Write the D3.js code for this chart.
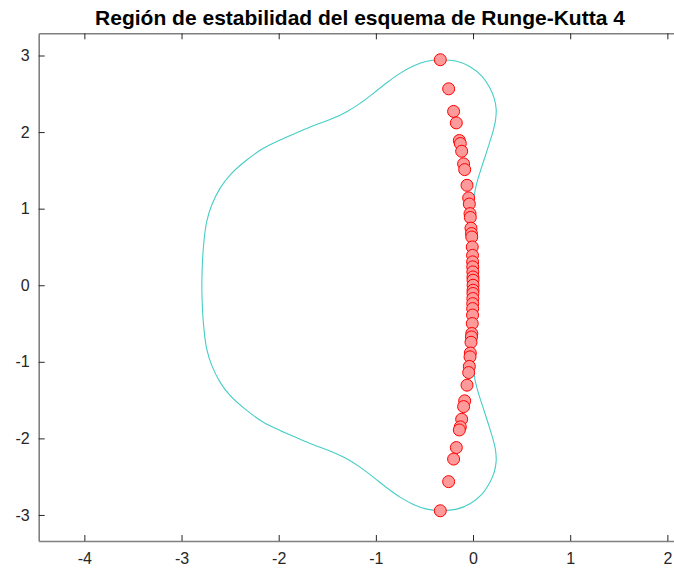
<!DOCTYPE html>
<html>
<head>
<meta charset="utf-8">
<script src="https://cdn.jsdelivr.net/npm/d3@7"></script>
<style>
  html, body { margin: 0; padding: 0; background: #fff; }
  svg { display: block; }
</style>
</head>
<body>
<svg id="chart" width="674" height="574"></svg>
<script>
// ---- Data ----
const title = "Región de estabilidad del esquema de Runge-Kutta 4";
const xTicks = [-4, -3, -2, -1, 0, 1, 2];
const yTicks = [-3, -2, -1, 0, 1, 2, 3];
const xTickLabels = ["-4", "-3", "-2", "-1", "0", "1", "2"];
const yTickLabels = ["-3", "-2", "-1", "0", "1", "2", "3"];

// Stability region boundary, going round the closed curve
const boundaryRe = [
  0.000, 0.001, 0.003, 0.010, 0.038, 0.090, 0.157, 0.209, 0.232, 0.238, 0.218, 0.175, 0.090, -0.031,
  -0.168, -0.340, -0.476, -0.614, -0.751, -0.888, -1.026, -1.163, -1.300, -1.472, -1.643,
  -1.814, -1.986, -2.158, -2.329, -2.501, -2.604, -2.689, -2.741, -2.768, -2.782, -2.789, -2.791,
  -2.789, -2.782, -2.768, -2.741, -2.689, -2.604, -2.501, -2.329, -2.158, -1.986, -1.814,
  -1.643, -1.472, -1.300, -1.163, -1.026, -0.888, -0.751, -0.614, -0.476, -0.340, -0.168,
  -0.031, 0.090, 0.175, 0.218, 0.238, 0.232, 0.209, 0.157, 0.090, 0.038, 0.010, 0.003, 0.001
];
const boundaryIm = [
  0.000, 0.400, 0.800, 1.156, 1.331, 1.547, 1.809, 2.027, 2.160, 2.300, 2.440, 2.571, 2.732, 2.853,
  2.924, 2.941, 2.924, 2.862, 2.767, 2.644, 2.506, 2.375, 2.266, 2.164, 2.082,
  1.991, 1.896, 1.788, 1.635, 1.439, 1.265, 1.047, 0.830, 0.590, 0.372, 0.155, 0.000,
  -0.155, -0.372, -0.590, -0.830, -1.047, -1.265, -1.439, -1.635, -1.788, -1.896, -1.991,
  -2.082, -2.164, -2.266, -2.375, -2.506, -2.644, -2.767, -2.862, -2.924, -2.941, -2.924,
  -2.853, -2.732, -2.571, -2.440, -2.300, -2.160, -2.027, -1.809, -1.547, -1.331, -1.156, -0.800, -0.400
];

// Eigenvalues (h*lambda)
const eigRe = [
  -0.337, -0.251, -0.200, -0.172, -0.141, -0.131, -0.117, -0.097, -0.086, -0.062, -0.045, -0.038,
  -0.031, -0.028, -0.021, -0.016, -0.013, -0.008, -0.005, -0.004, -0.003, -0.002, -0.001, 0.000,
  0.000,
  0.000, -0.001, -0.002, -0.003, -0.004, -0.005, -0.008, -0.013, -0.016, -0.021, -0.028, -0.031,
  -0.038, -0.045, -0.062, -0.086, -0.097, -0.117, -0.131, -0.141, -0.172, -0.200, -0.251, -0.337
];
const eigIm = [
  2.945, 2.565, 2.270, 2.120, 1.890, 1.850, 1.750, 1.585, 1.510, 1.305, 1.140, 1.060,
  0.935, 0.885, 0.745, 0.675, 0.630, 0.500, 0.390, 0.305, 0.240, 0.174, 0.108, 0.065,
  0.000,
  -0.065, -0.108, -0.174, -0.240, -0.305, -0.390, -0.500, -0.630, -0.675, -0.745, -0.885, -0.935,
  -1.060, -1.140, -1.305, -1.510, -1.585, -1.750, -1.850, -1.890, -2.120, -2.270, -2.565, -2.945
];

(function () {
  const svg = d3.select("#chart");
  const mLeft = 38.7, mRight = 680, mTop = 33.3, mBottom = 541;
  const x = d3.scaleLinear().domain([-4.47, 2.13]).range([mLeft, mRight]);
  const y = d3.scaleLinear().domain([-3.34, 3.29]).range([mBottom, mTop]);

  const font = "'Liberation Sans', Arial, Helvetica, sans-serif";
  const textColor = "#262626";

  // Title
  svg.append("text")
    .attr("x", 360)
    .attr("y", 25)
    .attr("text-anchor", "middle")
    .attr("font-family", font)
    .attr("font-weight", "bold")
    .attr("font-size", 21)
    .attr("fill", "#000")
    .text(title);

  svg.append("defs").append("clipPath").attr("id", "plotclip")
    .append("rect").attr("x", mLeft).attr("y", mTop)
    .attr("width", mRight - mLeft).attr("height", mBottom - mTop);

  // Boundary curve
  const pts = boundaryRe.map((r, i) => [r, boundaryIm[i]]);
  const line = d3.line().x(d => x(d[0])).y(d => y(d[1]))
    .curve(d3.curveCatmullRomClosed.alpha(0.5));
  svg.append("path")
    .attr("clip-path", "url(#plotclip)")
    .attr("d", line(pts))
    .attr("fill", "none")
    .attr("stroke", "#45cec6")
    .attr("stroke-width", 1.1);

  // Eigenvalue markers
  const eig = eigRe.map((r, i) => [r, eigIm[i]]);
  svg.append("g").selectAll("circle").data(eig).join("circle")
    .attr("cx", d => x(d[0]))
    .attr("cy", d => y(d[1]))
    .attr("r", 6)
    .attr("fill", "#ff9a9a")
    .attr("stroke", "#ff0000")
    .attr("stroke-width", 1);

  // Axes: frame with inward ticks
  const xFmt = d => xTickLabels[xTicks.indexOf(d)];
  const yFmt = d => yTickLabels[yTicks.indexOf(d)];
  const xAxisB = d3.axisBottom(x).tickValues(xTicks).tickSize(-6).tickSizeOuter(0).tickPadding(12).tickFormat(xFmt);
  const xAxisT = d3.axisTop(x).tickValues(xTicks).tickSize(-6).tickSizeOuter(0).tickFormat("");
  const yAxisL = d3.axisLeft(y).tickValues(yTicks).tickSize(-6).tickSizeOuter(0).tickPadding(9).tickFormat(yFmt);
  const yAxisR = d3.axisRight(y).tickValues(yTicks).tickSize(-6).tickSizeOuter(0).tickFormat("");

  function style(g) {
    g.select(".domain").attr("stroke", "#808080").attr("stroke-width", 1.6);
    g.selectAll(".tick line").attr("stroke", "#262626").attr("stroke-width", 1);
    g.selectAll(".tick text").attr("font-family", font).attr("font-size", 16).attr("fill", textColor);
  }
  svg.append("g").attr("transform", `translate(0,${mBottom})`).call(xAxisB).call(style);
  svg.append("g").attr("transform", `translate(0,${mTop})`).call(xAxisT).call(style);
  svg.append("g").attr("transform", `translate(${mLeft},0)`).call(yAxisL).call(style);
  svg.append("g").attr("transform", `translate(${mRight},0)`).call(yAxisR).call(style);
})();
</script>
</body>
</html>
